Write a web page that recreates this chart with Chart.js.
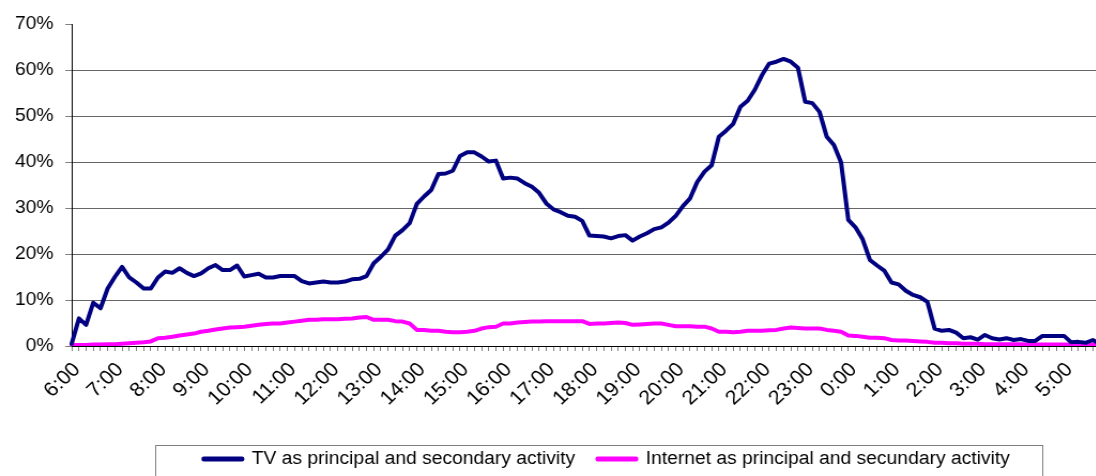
<!DOCTYPE html>
<html>
<head>
<meta charset="utf-8">
<script src="https://cdn.jsdelivr.net/npm/chart.js@4.4.1/dist/chart.umd.min.js"></script>
<style>
  html, body { margin: 0; padding: 0; background: #fff; }
  #frame { width: 1096px; height: 476px; overflow: hidden; }
  /* the sheet was exported slightly wider than tall, keep that proportion */
  #stretch { width: 1134px; height: 478px; transform: scaleX(1.07); transform-origin: 0 0; }
</style>
</head>
<body>
<div id="frame"><div id="stretch"><canvas id="chart" width="1134" height="478"></canvas></div></div>
<script>
// hour labels on the x axis, one per 6 slots of 10 minutes
const hourLabels = ["6:00", "7:00", "8:00", "9:00", "10:00", "11:00", "12:00", "13:00",
  "14:00", "15:00", "16:00", "17:00", "18:00", "19:00", "20:00", "21:00", "22:00",
  "23:00", "0:00", "1:00", "2:00", "3:00", "4:00", "5:00"];
const minuteMarks = ["00", "10", "20", "30", "40", "50"];

// share of people (%) per 10-minute slot, from 6:00 to 5:50
const tvShare = [
  0.5, 6.0, 4.6, 9.4, 8.2, 12.5, 15.0, 17.2, 14.9, 13.8, 12.5, 12.5,
  14.9, 16.2, 15.9, 16.9, 15.9, 15.2, 15.8, 16.9, 17.6, 16.5, 16.5, 17.5,
  15.1, 15.4, 15.7, 14.9, 14.9, 15.2, 15.2, 15.2, 14.1, 13.6, 13.8, 14.0,
  13.8, 13.8, 14.0, 14.5, 14.6, 15.2, 18.0, 19.4, 21.0, 24.0, 25.2, 26.7,
  30.9, 32.5, 33.9, 37.4, 37.5, 38.1, 41.3, 42.1, 42.1, 41.2, 40.1, 40.3,
  36.4, 36.6, 36.4, 35.4, 34.6, 33.3, 31.0, 29.7, 29.1, 28.3, 28.1, 27.2,
  24.0, 23.9, 23.8, 23.4, 23.9, 24.1, 22.9, 23.8, 24.5, 25.4, 25.8, 26.8,
  28.3, 30.4, 32.1, 35.7, 37.9, 39.3, 45.5, 46.8, 48.3, 52.0, 53.3, 55.7,
  58.9, 61.4, 61.8, 62.4, 61.8, 60.5, 53.1, 52.8, 50.9, 45.5, 43.7, 39.9,
  27.4, 25.8, 23.2, 18.7, 17.5, 16.4, 13.8, 13.4, 12.0, 11.1, 10.6, 9.6,
  3.8, 3.3, 3.5, 2.9, 1.7, 1.9, 1.4, 2.4, 1.7, 1.4, 1.7, 1.3,
  1.5, 1.1, 1.1, 2.2, 2.2, 2.2, 2.2, 0.8, 0.9, 0.7, 1.3, 0.5
];
const internetShare = [
  0.2, 0.2, 0.2, 0.3, 0.3, 0.4, 0.4, 0.5, 0.6, 0.7, 0.8, 1.0,
  1.7, 1.8, 2.0, 2.3, 2.5, 2.7, 3.1, 3.3, 3.6, 3.8, 4.0, 4.1,
  4.2, 4.4, 4.6, 4.8, 4.9, 4.9, 5.1, 5.3, 5.5, 5.7, 5.7, 5.8,
  5.8, 5.8, 5.9, 6.0, 6.2, 6.3, 5.7, 5.7, 5.7, 5.4, 5.3, 4.9,
  3.5, 3.5, 3.3, 3.3, 3.1, 3.0, 3.0, 3.1, 3.3, 3.8, 4.1, 4.2,
  4.9, 4.9, 5.1, 5.2, 5.3, 5.3, 5.4, 5.4, 5.4, 5.4, 5.4, 5.4,
  4.8, 4.9, 4.9, 5.0, 5.1, 5.0, 4.6, 4.7, 4.8, 4.9, 4.9, 4.6,
  4.3, 4.3, 4.3, 4.2, 4.2, 3.8, 3.1, 3.1, 3.0, 3.1, 3.3, 3.3,
  3.3, 3.4, 3.5, 3.8, 4.0, 3.9, 3.8, 3.8, 3.8, 3.5, 3.3, 3.1,
  2.3, 2.2, 2.0, 1.8, 1.8, 1.7, 1.3, 1.2, 1.2, 1.1, 1.0, 0.9,
  0.7, 0.7, 0.6, 0.6, 0.5, 0.5, 0.5, 0.4, 0.4, 0.4, 0.4, 0.4,
  0.4, 0.3, 0.3, 0.3, 0.3, 0.3, 0.3, 0.3, 0.3, 0.3, 0.3, 0.3
];

// "6:00", "6:10", ... "5:50"
const slots = [];
hourLabels.forEach(function (h) {
  const hour = h.split(":")[0];
  minuteMarks.forEach(function (m) { slots.push(hour + ":" + m); });
});

const FAMILY = '"Liberation Sans", Arial, sans-serif';
const FONT = { family: FAMILY, size: 18 };

// grey frame round the legend
const legendFrame = {
  id: "legendFrame",
  afterDraw: function (chart) {
    const boxes = chart.legend && chart.legend.legendHitBoxes;
    if (!boxes || !boxes.length) return;
    const first = boxes[0];
    const last = boxes[boxes.length - 1];
    const left = Math.round(first.left - 45) + 0.5;
    const right = Math.round(last.left + last.width + 30) + 0.5;
    const c = chart.ctx;
    c.save();
    c.strokeStyle = "#808080";
    c.lineWidth = 1;
    c.strokeRect(left, 445.5, right - left, 60);
    c.restore();
  }
};

new Chart(document.getElementById("chart").getContext("2d"), {
  type: "line",
  data: {
    labels: slots,
    datasets: [
      {
        label: "TV as principal and secondary activity",
        data: tvShare,
        borderColor: "#000080",
        backgroundColor: "#000080",
        borderWidth: 4,
        borderJoinStyle: "round",
        borderCapStyle: "round",
        pointRadius: 0,
        tension: 0,
        fill: false
      },
      {
        label: "Internet as principal and secundary activity",
        data: internetShare,
        borderColor: "#ff00ff",
        backgroundColor: "#ff00ff",
        borderWidth: 4,
        borderJoinStyle: "round",
        borderCapStyle: "round",
        pointRadius: 0,
        tension: 0,
        fill: false
      }
    ]
  },
  options: {
    responsive: false,
    animation: false,
    layout: { padding: { top: 24 } },
    plugins: {
      legend: {
        position: "bottom",
        labels: { font: FONT, color: "#000", boxWidth: 36, boxHeight: 1, padding: 21 }
      },
      tooltip: { enabled: false }
    },
    scales: {
      x: {
        grid: { drawOnChartArea: false, tickLength: 5, tickColor: "#808080" },
        border: { color: "#000", width: 1 },
        ticks: {
          autoSkip: false,
          minRotation: 45,
          maxRotation: 45,
          padding: 7,
          labelOffset: 5,
          font: { family: FAMILY, size: 20 },
          color: "#000",
          callback: function (v, i) { return i % 6 === 0 ? hourLabels[i / 6] : ""; }
        },
        afterFit: function (s) { s.height = 83; }
      },
      y: {
        min: 0,
        max: 70,
        ticks: {
          stepSize: 10,
          padding: 11,
          font: FONT,
          color: "#000",
          callback: function (v) { return v + "%"; }
        },
        grid: {
          color: function (c) {
            return c.tick && (c.tick.value === 0 || c.tick.value === 70) ? "rgba(0,0,0,0)" : "#666";
          },
          tickColor: "#808080",
          tickLength: 6
        },
        border: { color: "#000", width: 1 },
        afterFit: function (s) { s.width = 67; }
      },
      // empty strip on the right so the legend sits where it should
      spare: {
        type: "linear",
        position: "right",
        grid: { display: false },
        ticks: { display: false },
        border: { display: false },
        afterFit: function (s) { s.width = 106; }
      }
    }
  },
  plugins: [legendFrame]
});
</script>
</body>
</html>
